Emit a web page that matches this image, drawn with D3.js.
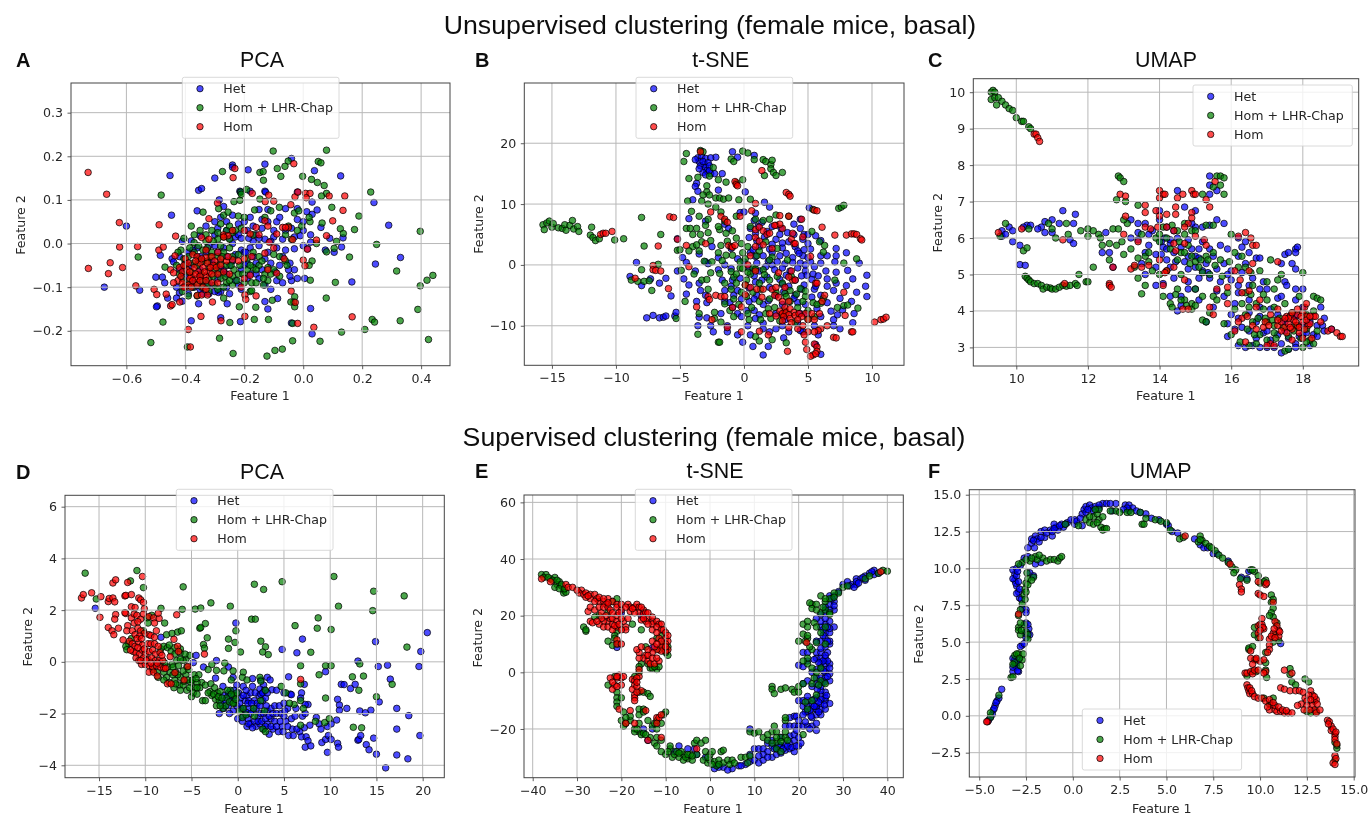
<!DOCTYPE html>
<html><head><meta charset="utf-8"><style>
html,body{margin:0;padding:0;background:#fff}
svg{display:block}
text{font-family:"DejaVu Sans",sans-serif;fill:#262626}
.head{font-family:"Liberation Sans",Arial,sans-serif;fill:#111}
</style><script src="https://cdnjs.cloudflare.com/ajax/libs/d3/7.8.5/d3.min.js"></script></head><body><svg id="c" width="1370" height="816"><defs><filter id="soft" x="0" y="0" width="100%" height="100%"><feGaussianBlur stdDeviation="0.4"/></filter></defs></svg>
<script>
const seriesNames=["Het","Hom + LHR-Chap","Hom"];
const seriesFill=["#0000ff","#008000","#ff0000"];

const aHet=[[-.452,.156],[-.24,.18],[-.24,.175],[-.187,.169],[-.13,.182],[-.3,.15],[-.04,.195],[.038,.167],[.127,.155],[-.355,.122],[-.345,.126],[-.215,.12],[-.213,.118],[-.18,.12],[-.13,.12],[-.128,.118],[-.285,.1],[-.27,.085],[.03,.095],[-.02,.118],[.24,.094],[-.447,.065],[-.36,.075],[-.15,.078],[-.12,.078],[-.06,.08],[-.02,.08],[.012,.073],[.03,.067],[.047,.077],[-.09,.05],[-.12,.05],[-.08,.06],[-.02,.055],[0,.05],[.29,.042],[-.6,.04],[-.33,.04],[-.3,.05],[-.28,.06],[-.2,.05],[-.24,.065],[-.22,.045],[-.17,.04],[-.14,.035],[-.1,.03],[-.06,.03],[-.04,.035],[0,.03],[.025,.02],[.06,.037],[.09,.012],[.135,.013],[-.38,.006],[-.41,.005],[-.35,.018],[-.3,.02],[-.26,.03],[-.23,.015],[-.19,.03],[-.16,.02],[-.13,.01],[-.1,.015],[-.07,.01],[-.03,.015],[-.01,.018],[.025,.003],[-.485,-.027],[-.445,-.035],[-.44,-.042],[-.42,-.06],[-.39,-.02],[-.36,-.01],[-.33,-.02],[-.3,-.005],[-.27,-.01],[-.24,0],[-.21,-.015],[-.18,-.01],[-.15,-.005],[-.12,-.02],[-.09,-.01],[-.06,-.015],[-.03,-.012],[0,-.005],[.015,-.012],[.075,-.015],[.105,-.02],[.13,-.008],[.33,-.032],[.245,-.047],[-.5,-.077],[-.478,-.077],[-.47,-.09],[-.555,-.107],[-.675,-.1],[-.46,-.125],[-.42,-.113],[-.41,-.132],[-.38,-.09],[-.35,-.07],[-.31,-.095],[-.28,-.11],[-.25,-.115],[-.22,-.095],[-.19,-.08],[-.16,-.07],[-.13,-.095],[-.11,-.105],[-.09,-.085],[-.07,-.09],[-.04,-.085],[-.05,-.06],[-.03,-.06],[-.08,-.05],[-.11,-.045],[-.14,-.06],[-.045,-.045],[-.02,-.08],[.005,-.08],[.165,-.088],[-.24,-.04],[-.27,-.06],[-.2,-.05],[-.17,-.03],[-.495,-.143],[-.498,-.145],[-.355,-.138],[-.288,-.112],[-.3,-.11],[-.258,-.138],[-.13,-.133],[-.12,-.15],[-.087,-.126],[.025,-.149],[-.38,-.177],[-.28,-.17],[-.213,-.179],[-.04,-.182],[.03,-.207],[-.34,-.115],[-.32,-.115]];
const aHet2=[[-.42,-.03],[-.4,-.045],[-.375,-.015],[-.35,-.03],[-.32,-.005],[-.29,-.02],[-.26,-.03],[-.23,-.025],[-.2,-.02],[-.19,-.045],[-.16,-.045],[-.13,-.035],[-.38,-.05],[-.35,-.06],[-.31,-.04],[-.28,-.06],[-.25,-.05],[-.21,-.06],[-.18,-.07],[-.15,-.08],[-.4,-.075],[-.37,-.1],[-.33,-.09],[-.29,-.08],[-.26,-.07],[-.23,-.085],[-.21,-.105],[-.43,-.1],[-.43,-.125],[-.39,-.115],[-.35,-.105],[-.26,-.1],[-.195,-.02],[-.17,.005],[-.22,.02],[-.25,.012],[-.21,.012],[-.185,.012],[-.15,.012],[-.29,.035],[-.26,.05],[-.18,.06],[-.14,.055],[-.11,.005],[-.07,-.03],[-.045,-.075],[-.095,-.065]];
const aGreen=[[-.102,.212],[.079,.214],[.051,.188],[.06,.185],[-.051,.189],[-.062,.177],[-.088,.172],[-.076,.154],[-.002,.154],[-.147,.163],[-.136,.165],[-.135,.145],[-.274,.165],[.028,.147],[.048,.14],[.071,.133],[.079,.115],[.062,.109],[.229,.118],[-.482,.111],[-.192,.124],[-.212,.118],[-.21,.113],[-.147,.102],[-.235,.096],[-.215,.099],[-.081,.083],[.097,.083],[.189,.063],[.397,.028],[.064,.047],[.023,.05],[.126,.034],[.136,.023],[.174,.032],[.113,.005],[.249,-.002],[.045,0],[.105,-.011],[.079,-.019],[.157,-.031],[.317,-.063],[.44,-.073],[.42,-.084],[.397,-.097],[.109,-.089],[.024,-.084],[.078,-.125],[-.029,-.122],[-.032,-.134],[-.042,-.134],[-.029,-.145],[.389,-.151],[.329,-.177],[.234,-.174],[.242,-.18],[.209,-.197],[.13,-.203],[.425,-.22],[.057,-.224],[-.036,-.223],[-.036,-.183],[-.071,-.242],[-.096,-.245],[-.123,-.258],[-.238,-.252],[-.284,-.217],[-.393,-.237],[-.517,-.227],[-.476,-.18],[-.249,-.181],[-.166,-.174],[-.118,-.174],[-.217,-.145],[-.161,-.146],[-.105,-.13],[-.56,-.031],[-.469,-.054],[-.287,.08],[-.34,.072],[-.27,.065],[-.255,.072],[-.22,.063],[-.2,.06],[-.165,.077],[-.13,.06],[-.11,.075],[-.05,.04],[-.005,.04],[.02,.06],[-.03,.07],[-.015,.075],[-.38,.04],[-.35,.03],[-.31,.03],[-.28,.045],[-.26,.03],[-.24,.025],[-.21,.035],[-.17,.02],[-.405,.012],[-.37,.002],[-.33,.005],[-.29,.01],[-.25,.01],[-.06,.02],[-.04,.01],[-.02,.03],[-.415,-.015],[-.39,-.03],[-.37,-.02],[-.34,-.015],[-.31,-.02],[-.29,-.03],[-.27,-.02],[-.24,-.03],[-.22,-.025],[-.19,-.035],[-.17,-.02],[-.15,-.03],[-.1,-.025],[-.08,-.03],[-.06,-.04],[.03,-.04],[.02,-.05],[-.4,-.05],[-.38,-.065],[-.36,-.05],[-.34,-.04],[-.32,-.055],[-.3,-.06],[-.28,-.045],[-.26,-.05],[-.235,-.06],[-.215,-.05],[-.19,-.06],[-.17,-.055],[-.15,-.05],[-.13,-.07],[-.1,-.06],[-.08,-.075],[-.055,-.05],[-.41,-.08],[-.385,-.085],[-.36,-.09],[-.34,-.085],[-.32,-.08],[-.3,-.095],[-.28,-.08],[-.26,-.09],[-.24,-.075],[-.22,-.07],[-.2,-.09],[-.175,-.09],[-.16,-.09],[-.135,-.095],[-.12,-.085],[-.39,-.12],[-.36,-.12],[-.32,-.11],[-.18,-.11],[-.175,-.108],[-.27,-.125],[-.41,-.11],[-.135,-.08],[-.24,-.095]];
const aGreen2=[[-.425,-.02],[-.405,-.035],[-.385,-.01],[-.355,-.005],[-.325,-.01],[-.305,.005],[-.28,-.005],[-.25,-.01],[-.43,-.05],[-.395,-.065],[-.375,-.045],[-.345,-.07],[-.325,-.04],[-.305,-.075],[-.285,-.065],[-.265,-.075],[-.245,-.05],[-.225,-.085],[-.205,-.07],[-.375,-.1],[-.345,-.1],[-.325,-.095],[-.29,-.105],[-.27,-.1],[-.25,-.085],[-.4,-.095],[-.42,-.07],[-.355,-.035],[-.315,-.03],[-.295,-.05],[-.275,-.03],[-.23,.03],[-.25,.04],[-.27,.015],[-.29,.025],[-.33,.02],[-.37,.02],[-.18,-.05],[-.16,-.06],[-.14,-.04],[-.12,-.055],[-.11,-.07]];
const aRed=[[-.73,.163],[-.667,.113],[-.624,.048],[-.623,-.008],[-.562,-.007],[-.489,.043],[-.433,.017],[-.729,-.057],[-.655,-.044],[-.661,-.069],[-.613,-.055],[-.568,-.097],[-.506,-.105],[-.497,-.117],[-.465,-.116],[-.45,-.143],[-.445,-.14],[-.419,-.134],[-.39,-.197],[-.383,-.237],[-.347,-.167],[-.279,-.177],[-.198,-.167],[-.308,-.134],[-.198,-.118],[-.195,-.128],[-.16,-.12],[-.041,-.109],[-.027,-.135],[-.019,-.183],[.036,-.192],[.166,-.168],[-.238,.151],[-.232,.172],[-.032,.183],[-.291,.093],[-.173,.115],[-.117,.111],[-.129,.096],[-.1,.097],[-.042,.089],[-.028,.107],[-.018,.118],[.008,.115],[.023,.115],[.01,.105],[.088,.109],[.141,.109],[.135,.076],[.1,.052],[.079,.018],[.045,.008],[.014,-.013],[0,-.038],[.006,-.051],[-.036,.009],[-.07,.037],[-.05,.037],[-.32,.057],[-.13,.052],[-.12,.04],[-.09,.022],[-.06,.037],[-.27,.02],[-.255,.018],[-.24,.03],[-.2,.03],[-.18,.022],[-.16,.037],[-.15,.02],[-.345,.014],[-.32,.01],[-.115,.003],[-.49,-.015],[-.475,-.008],[-.435,-.028],[-.4,-.035],[-.375,-.025],[-.36,-.03],[-.35,-.045],[-.33,-.032],[-.31,-.03],[-.3,-.04],[-.28,-.035],[-.26,-.04],[-.24,-.037],[-.22,-.04],[-.2,-.035],[-.175,-.03],[-.13,-.022],[-.1,-.01],[-.065,-.035],[-.45,-.06],[-.44,-.067],[-.42,-.055],[-.41,-.065],[-.395,-.06],[-.38,-.075],[-.37,-.055],[-.355,-.065],[-.34,-.055],[-.32,-.065],[-.305,-.05],[-.29,-.07],[-.27,-.065],[-.25,-.07],[-.36,-.08],[-.33,-.075],[-.425,-.085],[-.41,-.09],[-.39,-.095],[-.36,-.095],[-.34,-.1],[-.31,-.09],[-.29,-.09],[-.385,-.08],[-.44,-.09],[-.2,-.08],[-.18,-.073],[-.12,-.06],[-.09,-.068],[-.36,-.119],[-.345,-.118],[-.325,-.118],[-.33,-.105],[-.4,-.1],[-.21,-.1]];
const aRed2=[[-.405,-.05],[-.39,-.045],[-.385,-.065],[-.365,-.04],[-.365,-.07],[-.35,-.075],[-.345,-.035],[-.335,-.065],[-.325,-.045],[-.315,-.055],[-.31,-.07],[-.295,-.055],[-.375,-.085],[-.35,-.085],[-.33,-.085],[-.415,-.075],[-.405,-.1],[-.38,-.1],[-.28,-.05],[-.255,-.03],[-.27,.015],[-.29,-.02],[-.33,-.015]];

const bHet=[[-3.6,17.6],[-3.3,17.8],[-3.5,17],[-3,17.5],[-3.1,16.5],[-3.4,16.3],[-3,16],[-2.9,15.5],[-3.2,15.2],[-2.6,15],[-2.3,15],[-3,14.8],[-2.2,17.7],[-2.6,17.6],[-1.7,15],[-3.7,13.4],[-3.8,12.9],[-3.6,12.1],[-.9,18.6],[-.5,17.7],[.8,18],[-2,12.3],[.1,12],[-4,10.7],[1.6,10.3],[2,9.5],[5.1,9.4],[-.3,8.6],[0,8.7],[-4.3,7.6],[-3,7.2],[.8,7.3],[1.4,7],[4.4,7.5],[-1.5,6.7],[-1.2,6],[.5,6],[1.8,5.5],[2.9,6],[3.4,5.3],[4.4,6],[5.6,4.8],[-5.2,4.3],[-2.5,3],[-1,2.7],[.4,4.5],[1,4],[2.5,4.2],[3.5,3.8],[4.6,4.2],[5,3.5],[6,4],[7.2,2.7],[8,2],[1.2,3],[2,2.6],[3,2.8],[4,3],[5.2,2.6],[6,1.5],[6.5,1.5],[7.2,1.5],[-4.8,1.2],[-3.5,1.8],[-2,1.2],[-.5,1],[.5,2],[1.5,1.5],[2.8,1.5],[3.8,1.2],[4.6,1.5],[5.2,.5],[6,.3],[7.1,.5],[9,.3],[-8.4,.4],[-4.5,.4],[-3,.5],[-2.8,.2],[-1.5,0],[0,.5],[1,.3],[2.2,0],[3.2,.2],[4.4,.3],[6.4,-1],[8.1,-.9],[-5.2,-1],[-3.8,-1],[-2,-.8],[-1,-.6],[.4,-.5],[1.2,-1],[2.4,-.8],[3.6,-1],[4.8,-1],[5.4,-1.5],[7.2,-1.2],[8.5,-2.3],[9.6,-1.7],[-8.9,-1.9],[-7.3,-2.3],[-6.6,-3],[-6.1,-2.2],[-4.7,-2.3],[-4.3,-3.3],[-3.5,-3],[-1.7,-2.5],[-.3,-2.2],[1.4,-2.5],[2.8,-2.4],[4,-2.5],[5.3,-2.4],[6.5,-3.5],[7.2,-3],[8,-3.4],[9.5,-3.5],[-8,-3.4],[-3.4,-4.2],[-1,-3.5],[.4,-3.8],[2,-3.7],[3.5,-3.5],[5.5,-4],[7,-4.2],[8.8,-4.5],[-4.5,-4.8],[-3,-5],[-.8,-5],[1,-5],[2.5,-5],[4,-5],[6,-5],[7.5,-5.5],[9.6,-5.2],[-5.7,-5.1],[-3.7,-6],[-1.5,-6],[.4,-6],[1.5,-6.5],[3,-6.5],[4.8,-6.5],[6.5,-6.2],[8.4,-6],[-2.9,-6.2],[-.9,-7],[.8,-7.5],[2.5,-8],[4.4,-8],[5.7,-7.2],[7.7,-7.4],[-7.6,-8.7],[-7.1,-8.3],[-6.6,-8.7],[-6.3,-8.6],[-6.1,-8.4],[-5.4,-8.4],[-5.3,-7.8],[-3.5,-8.6],[-2.9,-8.7],[-1.8,-8],[-.5,-8],[1.2,-8.2],[3.2,-9],[6,-8.5],[7,-9],[8.6,-8],[-3.6,-10],[-2.6,-10],[-1.3,-10],[.3,-10],[1.5,-9.6],[3,-10],[4.2,-9.6],[5.5,-10],[7,-10],[8.5,-9.5],[-2.4,-11],[-1.3,-11],[-.5,-11.5],[.5,-11.5],[2,-11],[3.5,-11],[5.8,-11.5],[-.1,-12.7],[.7,-13.4],[1.9,-13.4],[1.5,-14.8],[6,-14.7],[5.6,-13.1],[3.1,-12],[4.6,-11]];
const bHet2=[[-3.8,17.3],[-3.2,17],[-2.8,16.8],[-2.7,16.3],[-3.5,15.8],[-2.7,15.5],[.9,8.5],[1.1,6.3],[.9,5.2],[2.2,6.3],[2.8,5],[3.9,5],[3.9,6.7],[4.7,5],[5,5],[1.6,4.6],[2.2,3.4],[3,3.6],[4.2,2.3],[4.7,2.5],[.7,2.5],[.9,1.4],[2.2,2],[3.3,1.9],[4.3,1.9],[5,1.2],[1.9,.6],[2.6,.5],[3.8,.4],[4.8,0],[5.5,-.3],[1.7,-.3],[3,-.5],[4.2,-.5],[4.9,-1.7],[5.8,-1.8],[6.5,-2.3],[.8,-1.8],[1.8,-2],[3.3,-1.7],[4.5,-1.8],[-.9,-2.5],[.9,-2.8],[3,-3.2],[4.7,-3.3],[-1.5,-4.2],[-.5,-4.2],[3.1,-4.4],[4.5,-4],[5.6,-3.5],[-.2,-5.6],[.8,-5.6],[1.9,-5.9],[3.9,-5.5],[5.3,-5.3],[-1.1,-6.2],[4.2,-6.2],[.2,-7.5],[-.2,-8.5],[.9,-8.8],[4.9,-8],[6.8,-7.6],[1.5,-10.5],[2.5,-10.5],[4.4,-10.8],[7.3,-8.2],[7.5,-10.5]];
const bGreen=[[-15.7,6.6],[-15.6,5.8],[-15.4,6.9],[-15.2,7.2],[-15,6.2],[-14.9,6.8],[-14.5,6.1],[-14.2,6],[-14,6.6],[-13.9,5.7],[-13.6,6.5],[-13.4,7.3],[-13.3,5.9],[-13,6.3],[-12.9,5.5],[-12,4.9],[-11.9,6.2],[-11.8,4.5],[-11.6,4],[-11.3,4.3],[-10.1,4.1],[-9.4,4.3],[-8,7.8],[-7.8,3.1],[-6.5,5],[-5.2,2.4],[-5,2.5],[-4.7,17],[-4.5,18.3],[-3.4,18.8],[-3.2,18.6],[-2.7,14.6],[-2.4,16],[-4.3,14.2],[-3.6,14.4],[-2,14],[-1.4,13.6],[-2.9,13],[-2.9,12],[-3.2,11.5],[-2.7,11.5],[-3.3,10.5],[-2.8,10],[-2.2,11],[-1.9,11],[-1.6,10.8],[-.6,13.5],[-1,17.4],[-.8,17],[-.1,18.7],[.3,18.4],[.8,17.3],[1.5,17.3],[1.7,17],[2.1,16.5],[2.1,15.8],[2.3,15.2],[2.5,14.7],[1.6,14.7],[3,15.2],[2.2,17.2],[-4.4,10.5],[-4.1,8.8],[-3.5,8],[-2.2,9.5],[-1.8,8.7],[-.4,10.7],[.5,10.8],[-.6,8],[2.5,8.2],[-4.5,6],[-4.2,6],[-3.7,6],[-4,5],[-3.4,5],[-2.8,5.3],[-3,6.5],[-2.8,7.5],[-1.5,7.2],[-1.9,5.8],[-1.4,5.2],[-.9,5.6],[.5,6.3],[.9,7.5],[1.5,7.3],[2,7.5],[3.5,8],[-4,3],[-3.3,3.8],[-2.6,4],[-1.3,3.9],[-.2,3.5],[1.7,3.8],[2.6,2.7],[5.3,5.5],[5.9,3.8],[6.3,3.2],[6.2,2.1],[7.8,.3],[8.8,1],[-3.5,2.3],[-2,2],[-.9,1.6],[-.1,2],[1,1.5],[2.2,1.3],[-3.1,.6],[-2.5,.5],[-1.7,.7],[-.3,.5],[.7,-.5],[1.5,-.8],[-6.7,.1],[-8,-.8],[-8.8,-2.5],[-8.3,-2.7],[-7.8,-2.7],[-7.4,-2.6],[-7.2,-4.2],[-3.9,-1.5],[-3.3,-2.5],[-2.9,-2.4],[-2.8,-4],[-1.9,-1.4],[-1.5,-3],[-.8,-2],[.2,-2.5],[.5,-1.5],[1.2,-3],[2,-2.5],[3,-3],[3.7,-1.9],[-1,-4],[-.2,-4.5],[.7,-4.5],[1.3,-4],[2.5,-4.5],[3.6,-4.2],[4.1,-4.8],[6.2,-5.5],[6,-6.3],[7.8,-6.7],[8.9,-7.1],[-4.6,-6],[-3.5,-8],[-2.3,-7.8],[-1.1,-7.5],[-.4,-6.5],[.6,-7],[1.2,-6],[1.7,-8],[2.4,-7],[3.6,-6],[4.2,-7],[5,-7.5],[5.5,-8.5],[7.3,-7],[-5.3,-8.8],[-2.3,-8.8],[-1.8,-9.4],[-.8,-8.5],[.4,-9],[1.3,-9],[2.1,-8.8],[3,-8.2],[4,-9.5],[5,-8.9],[-3.6,-11.4],[-2,-12.7],[-1.9,-12.7],[.9,-11.8],[1.2,-12.5],[2.2,-12.3],[3.3,-12.8],[7.4,9.3],[7.6,9.5],[7.8,9.8],[5.4,9.1],[-1.2,11],[-.1,14],[-1,-1.1],[-.3,-.5],[.9,-.7],[7.1,-2.5],[8.1,-6.6]];
const bGreen2=[[.3,3],[.1,1],[-.1,-.6],[.3,-1.2],[-.6,-1.5],[1.6,-1.6],[2.6,-1.9],[3.2,-4.7],[4.4,-3.9],[5.4,-6.2],[2,-5.6],[.2,-5.2],[-.8,-5.6],[3.3,-5.2],[4.8,-5.2],[2.8,-9.2],[1.9,-7.2],[3.2,-7.6],[4.6,-6],[.3,-8],[-1.5,-6.4],[2,.8],[3.4,.8],[1.2,2.3],[-.6,4.4],[-1.8,3.2],[-4.9,-.9],[-2.6,-1.3],[-.6,-3],[.1,-3.3],[-2,6.3],[-3.7,3.3],[-4.3,2.3],[-1.4,1.6],[4.8,-4.3],[5.7,-6.5]];
const bRed=[[-11.2,5],[-11,5.2],[-10.8,5.2],[-10.3,5.5],[-5.8,7.9],[-5.5,7.8],[-7.1,-.1],[-7.1,-.8],[-6.9,-.9],[-6.5,-1],[-6.7,3.1],[-5.2,4.2],[-4.5,3.2],[-4.3,-.3],[-5.9,-3.9],[-8.5,-2.2],[-3.4,18.6],[-.7,13.7],[-.6,13.2],[-.5,13],[1.4,15.5],[3.3,11.9],[3.5,11.6],[3.6,11.3],[.9,10.1],[.6,8.9],[2.8,8.1],[3.5,8],[-2.6,8.7],[-1.8,8],[-1.5,7.5],[-1.3,7],[-.3,8],[-3,3.5],[-1.2,3.2],[-1,3],[-.9,2.9],[-.7,3.2],[5.5,9],[5.7,8.9],[4.5,7.5],[4.6,4.6],[6.1,6.2],[7.1,4.9],[8,4.9],[8.4,5.1],[8.6,5.1],[8.8,5],[9.1,4.3],[9.2,4.1],[.9,5.8],[1.2,6.2],[1.5,5.6],[1.8,5],[2,5.2],[.9,4.5],[1.2,3.9],[1.5,3.3],[.9,3],[3,6],[3.8,5.2],[3.7,4.2],[3.9,3.5],[4,3.5],[2.2,2.7],[2.5,6.5],[2.8,6.7],[5.2,1.4],[.5,1.5],[.3,0],[.9,-1],[2.7,-1.3],[3.7,-1],[3.8,-2.5],[3.5,-2],[4,-2.5],[.1,-3.3],[.5,-3.7],[1,-4],[1.5,-4],[2.2,-4],[2.5,-3.7],[3.2,-3.7],[5.6,-3],[1.4,-5.3],[-2.8,-5.2],[-2.7,-5.7],[-2.2,-5],[-1.8,-5.2],[-1.5,-5.2],[-.9,-7],[-.2,-6.9],[-3.7,-6.9],[.1,-4.9],[2.4,-5],[2.7,-5.3],[3,-6],[3.5,-6],[3.2,-7],[2.8,-7.6],[3,-8],[3.3,-7.8],[3.6,-7.2],[3.9,-7.8],[3.5,-8.2],[3.1,-8.5],[3.6,-8.8],[4,-8.3],[4.3,-8],[4.8,-8],[5.3,-8],[5,-9],[4.5,-8.5],[2.5,-8.4],[2,-8],[3,-9.2],[3.7,-9.5],[4.2,-9],[3.5,-10.3],[4.2,-10.5],[4.6,-10],[5.5,-9],[5.9,-8],[6,-10.5],[5.8,-10.8],[6.5,-10],[5,-11],[4.7,-11.5],[5.5,-11],[7,-11.9],[7.2,-12],[8.4,-11],[8.5,-11],[6.3,-5],[5.7,-3],[7.8,-4.5],[7.9,-8.3],[10.2,-9.4],[10.7,-9],[10.9,-8.9],[11.1,-8.6],[-1.3,-10.3],[-.2,-11],[1.2,-10.9],[1.9,-11.5],[-2.5,-9],[3.4,-14.2],[4.8,-12.7],[4.9,-13.9],[5.5,-13],[5.7,-13.5],[5.7,-14.2],[5.4,-14.8],[5.2,-15],[5.6,-14.6],[6.1,-6],[2.4,6.5]];

const cHet=[[15.4,7.7],[15.4,7.45],[15.4,7.2],[15.6,7.3],[14.5,7.3],[14.7,6.85],[15,6.75],[14,6.75],[14,6.5],[14.2,6.3],[15.6,6.5],[15.8,6.4],[15.2,6.3],[15.4,6.35],[15,6.3],[14.9,6.4],[13.2,6.5],[13.4,6.4],[13.6,6.4],[13.8,6.2],[14.4,6.2],[11.3,6.75],[11.65,6.65],[10.8,6.45],[11,6.5],[11.2,6.4],[11.6,6.4],[10.7,6.3],[10.8,6.15],[11,6.15],[10.6,6.25],[10.3,6.35],[10.2,6.3],[10.4,6.35],[9.6,6.05],[9.6,6.2],[9.8,6.3],[9.9,6.2],[9.7,6.1],[11.5,5.95],[11.6,5.85],[9.9,5.9],[10.1,5.8],[10.1,5.27],[10.25,5.25],[12.4,5.6],[12.6,5.6],[12.7,5.2],[12.5,6.15],[13.2,6],[13.4,5.95],[14.1,5.75],[14.3,5.85],[14.5,6],[14.8,5.95],[15.2,5.9],[15.4,5.7],[15.7,5.8],[15.9,5.7],[16.2,5.5],[16.3,5.75],[16.5,5.6],[16.4,5.9],[16.2,6],[14.2,5.4],[14.4,5.6],[14.8,5.5],[15,5.5],[15.3,5.3],[15.6,5.15],[15.8,5.3],[16,5.1],[16.4,5.3],[16.7,5.45],[16.8,5.45],[17.4,5.3],[17.5,5.55],[17.6,5.6],[17.7,5.3],[17.8,5.7],[17.85,5.75],[17.8,5.15],[17.8,5.6],[14.8,5.15],[15.1,4.9],[15.4,4.9],[15.7,4.8],[16,4.85],[16.2,4.7],[16.6,4.9],[16.9,4.8],[17.5,4.8],[17.55,4.7],[17.8,4.6],[18,4.6],[13.9,4.7],[14.1,4.75],[15,4.6],[14.3,4.4],[14.6,4.4],[15.8,4.4],[16.2,4.5],[17.3,4.35],[17.4,4.4],[17.8,4.3],[18,4.1],[14.5,4],[14.6,4.15],[15.5,4.1],[16,3.9],[16.2,3.8],[16.5,3.95],[15.3,3.7],[15.9,3.3],[16.1,3.5],[16.3,3.55],[16.7,3.7],[16.9,3.4],[17.1,3.2],[17.4,3.1],[17.6,3.25],[17.8,3.1],[18,3.35],[18.3,3.35],[18.4,3.6],[18.55,3.6],[18.6,3.8],[18.5,4.1],[16.2,3.05],[16.4,3],[16.6,3.05],[16.8,3],[17,3],[17.2,3],[17.4,2.85],[17.6,2.95],[17.8,3],[18.2,3.05],[18.8,3.5],[18.4,3.3],[18.6,3.45],[13.9,5.55],[14.3,5.2],[13.7,5.8],[13.5,5.3],[13.6,5],[13.9,5.2]];
const cHet2=[[14.15,6],[14.05,5.9],[14.3,5.95],[14.6,5.75],[14.9,5.7],[15.1,5.7],[14.05,5.55],[14.2,5.7],[14.45,5.35],[14.7,5.35],[15,5.2],[15.2,5.1],[15.5,5.5],[15.1,5.45],[15.35,5.05],[15.9,5],[16.3,5.05],[16.5,4.7],[16.8,4.6],[17,4.6],[16.5,4.3],[16.8,4.1],[17.1,4.05],[17.3,3.9],[17.5,3.7],[17.8,3.85],[18.1,3.4],[18.2,3.7],[16.8,3.85],[16.5,3.45],[16.7,3.25],[17,3.45],[17.3,3.35],[17.5,3.45],[17.9,3.3],[18,3.6],[14.4,4.9],[14.8,4.8],[15.6,4.55],[15.1,4.3],[14.8,4.6],[16.1,4.2],[15.9,3.65],[13.4,6.15],[13.7,6.1],[13.6,5.6]];
const cGreen=[[9.3,10],[9.35,10.05],[9.4,10],[9.3,9.8],[9.4,9.85],[9.5,9.85],[9.45,9.65],[9.6,9.75],[9.7,9.65],[9.8,9.55],[9.9,9.5],[10,9.3],[10.15,9.2],[10.2,9.2],[10.35,9.05],[10.4,9],[9.7,6.4],[9.55,6.05],[10.2,5.65],[10.3,5.73],[10.25,4.95],[10.3,4.9],[10.35,4.85],[10.4,4.8],[10.5,4.75],[10.6,4.75],[10.7,4.7],[10.75,4.6],[10.85,4.65],[10.95,4.63],[11,4.6],[11.1,4.6],[11.2,4.65],[11.3,4.7],[11.4,4.68],[11.5,4.7],[11.65,4.75],[11.7,4.7],[11.75,5],[11.95,4.8],[12,4.8],[12.15,5.2],[11.1,6],[11.4,6.4],[11.45,6.1],[10.35,6.25],[10.9,6.4],[11,6.25],[11.8,6.2],[12,6.25],[12,6.05],[12.15,6.2],[12.3,6.1],[12.35,6],[12.4,5.8],[12.6,5.85],[12.8,5.8],[12.7,6.25],[12.6,5.4],[13,5.55],[12.95,5.9],[12.85,6.25],[12.85,7.7],[12.9,7.65],[13,7.55],[12.8,7.05],[13.05,7],[13.4,6.9],[13.1,6.4],[13,6.5],[13.5,6.1],[13.2,5.7],[13.3,5.2],[13.4,4.9],[13.4,5.45],[13.5,4.47],[13.6,4.7],[13.6,5.5],[13.7,5.6],[13.8,5.1],[13.9,6],[14,5.9],[14.2,6],[14.35,6.35],[14.5,6.2],[14.7,6.4],[14.9,6.2],[15.2,7.2],[15.3,6.35],[15.5,6.35],[15.6,7.7],[15.7,7.7],[15.8,7.65],[15.5,7.4],[15.7,7.45],[15.8,7.2],[16,6.1],[14.3,5.7],[14.6,5.6],[14.9,5.5],[15.3,5.5],[15.5,5.6],[15.7,5.4],[16.1,5.6],[16.2,5.2],[16.4,5.2],[16.8,5.1],[17.1,5.4],[17.4,5],[17.3,4.85],[17,4.8],[16.6,4.7],[18,5.05],[14.1,4.4],[14.3,4.2],[14.5,4.6],[14.7,4.3],[14.9,4.2],[15,4.6],[14.9,4.05],[14.35,4.1],[15.2,4.4],[15.5,4.4],[15.6,4.3],[15.9,4.5],[16.3,4.2],[16.5,4.1],[16.7,4.2],[17,4.3],[17.2,4.1],[17.5,4.2],[17.9,4.4],[18.3,4.4],[18.4,4.35],[18.5,4.3],[15.2,3.75],[15.3,3.7],[15.4,3.95],[16,3.35],[15.8,3.65],[16.1,4.05],[16.4,3.9],[16.6,3.7],[16.8,3.35],[17,3.7],[17.2,3.4],[17.6,3.3],[17.8,3.6],[18.1,3.5],[18.3,3.1],[18.4,3.45],[18,3],[16.5,3.05],[16.7,3.1],[17,3.2],[17.5,2.9],[17.6,2.95],[18.1,3.9],[18.3,4],[16.9,4.05],[17.7,3.95],[16.3,5.5],[14.8,5.8],[15.1,5.2],[14.2,5.1]];
const cGreen2=[[14.5,5.4],[14.7,5.6],[14.85,5.3],[15,5.35],[15.15,5.4],[15.35,5.4],[15.55,5.25],[15.4,5],[15.2,5.05],[14.6,5],[15.75,4.95],[15.95,5.35],[16.55,5.05],[17.2,4.6],[16.9,4.45],[16.55,4.45],[16.4,4.5],[14.6,4.3],[14.45,4.45],[14.75,4.15],[15,4.15],[16.75,3.8],[16.95,3.8],[17.15,3.75],[17.35,3.8],[17.45,3.55],[17.75,3.45],[17.95,3.25],[17.2,3.6],[17.25,3.25],[16.65,3.35],[16.45,3.5],[16.25,3.15],[18.2,3.2],[18.1,3.15],[15,6.2],[14.7,6.1],[14.1,6.3],[14,6.1],[13.7,5.35],[14,5],[14.55,5.9]];
const cRed=[[10.5,8.85],[10.55,8.85],[10.6,8.75],[10.65,8.65],[9.5,6.15],[10.15,6.25],[11.3,5.95],[11.35,4.75],[12.6,4.75],[12.6,4.7],[12.65,4.65],[12.7,5.2],[12.9,7.2],[13.05,7.15],[13,6.1],[13.05,6.6],[13.6,6.9],[13.6,6.7],[13.4,5.9],[13.6,6.3],[13.75,6.25],[13.9,6.75],[14,6.6],[13.95,6.3],[14,7.1],[14,7.3],[14.1,7.2],[14.15,7.2],[14.2,6.65],[14.2,6.3],[14.45,6.65],[14.5,7.1],[14.45,6.85],[14.65,7.2],[14.9,7.3],[14.95,7.2],[15,7.2],[14.9,6.7],[14.9,6.55],[14.8,6.4],[15.3,7.05],[15.4,6.85],[15.55,7.55],[14.7,6.3],[14.4,6.2],[15,6.05],[15.25,5.95],[14.4,5.85],[14.45,5.65],[14.7,5.85],[15.3,5.8],[13.2,5.15],[13.3,5.25],[13.5,5.2],[13.7,5.25],[14,5.4],[14.2,5.1],[14.4,5.2],[14.7,4.85],[14.1,4.7],[14.15,5.05],[14.65,4.05],[14.8,4.05],[15.6,4.6],[15.4,4.1],[15.5,3.9],[15.9,4.2],[16.1,5.1],[16.25,4.85],[16.3,4.5],[16.5,4.55],[16.2,6.05],[16.4,6.15],[16.55,6],[16.6,5.8],[16.7,5.8],[16.6,5.3],[16.5,5.1],[17.3,5.35],[16.8,4.3],[16.7,4.1],[17.3,4.05],[17.55,3.85],[15.9,4.65],[16.1,3.45],[16.3,3.8],[16.4,3.15],[16.6,3.6],[16.7,3.5],[16.9,3.55],[16.95,3.7],[17.05,3.6],[17.1,3.9],[17.1,3.1],[17.3,3.6],[17.4,3.7],[17.5,3.55],[17.55,3.4],[17.6,3.65],[17.65,3.85],[17.7,3.5],[17.7,3.2],[17.75,3.75],[17.85,3.6],[17.85,3.9],[17.9,3.4],[18,3.7],[18,3.95],[18.05,4.1],[18.1,3.85],[18.15,3.6],[18.2,3.65],[18.3,3.85],[18.35,3.85],[18.5,3.7],[18.25,3.25],[18,3.25],[18.7,3.45],[18.8,3.5],[18.95,3.4],[19.05,3.3],[19.1,3.3],[18.1,4.2],[17.85,4.05],[16.45,3.85],[17.2,3.05],[17,3.05],[16.2,3.7]];
const cRed2=[[17.65,3.55],[17.8,3.7],[17.6,3.8],[17.9,3.55],[18.1,3.75],[17.5,3.8],[17.95,3.85],[17.7,3.95],[18.2,3.85],[18.05,3.5],[17.3,3.75],[17.4,3.45]];

const dHet=[[-15.4,2.07],[-8.3,.95],[-.2,1.5],[7,.88],[4.8,.48],[6.4,.35],[14.9,.78],[20.5,1.13],[19.8,.4],[19.6,-.18],[16.2,-.13],[15.2,-.18],[13,.03],[9.5,-.38],[5.5,-.58],[16.5,-.67],[11.2,-.87],[11.5,-.88],[12.2,-1.03],[12.7,-.87],[10.8,-1.45],[11,-1.67],[11.8,-1.8],[11,-1.87],[15.3,-1.55],[17.2,-1.8],[14.4,-1.87],[13.2,-1.9],[13.8,-1.97],[18.5,-2.08],[10.7,-2.25],[10.1,-2.4],[9.7,-2.5],[8.5,-2.15],[8.8,-2.4],[9,-2.6],[7.8,-2.45],[7.2,-2.55],[6.7,-2.7],[6.9,-2.9],[7.4,-2.9],[7.6,-3.05],[7.3,-3.3],[7.9,-3.25],[9.1,-3.12],[9.5,-3],[9.8,-2.85],[10.1,-3],[10.8,-3.15],[10.9,-3.3],[9.7,-3.5],[13,-3.03],[13.1,-3],[13.3,-2.85],[14.7,-2.95],[13.9,-3.2],[14.2,-3.4],[15,-3.57],[17.2,-2.6],[19.7,-2.85],[17.2,-3.6],[18.4,-3.75],[16,-4.1],[-4.5,.25],[-4.8,-.03],[-2.3,.05],[-3.7,-.2],[-1,-.2],[-2.4,-.63],[-.5,-.6],[-1.6,-.95],[-.1,-.9],[.6,-.95],[1.6,-.65],[2.5,-.7],[3.2,-.6],[3.5,-.7],[2.8,-.9],[1.6,-.95],[3.7,-1.08],[4.2,-1.1],[2.4,-1.05],[5,-1.2],[5.7,-1.25],[5.8,-1.27],[6.9,-1.2],[7.2,-.87],[-2,-2],[-1.8,-1.6],[-1.5,-1.3],[-1,-1.2],[-.7,-1.5],[-1.5,-1.8],[-1,-1.7],[-.5,-1.9],[-.1,-1.7],[0,-2.2],[.5,-1.8],[.8,-1.5],[1,-1.3],[1.2,-1.8],[1.4,-1.2],[1.8,-1.5],[.6,-2.1],[1.1,-2.2],[1.7,-1.9],[2.1,-1.6],[2.3,-1.3],[2.7,-1.5],[3,-1.4],[1,-2.5],[1.4,-2.4],[1.8,-2.3],[2.2,-2.1],[2.5,-2],[2.8,-2],[3.2,-1.9],[3.6,-1.8],[4,-1.7],[4.5,-1.7],[5,-1.6],[5.4,-1.8],[2,-2.5],[2.4,-2.4],[2.8,-2.6],[3.2,-2.4],[3.6,-2.2],[4,-2.3],[3.4,-2.8],[3.8,-2.6],[4.4,-2.7],[4.8,-2.5],[5.2,-2.3],[5.8,-2.2],[6.2,-2.1],[6.3,-1.8],[5.5,-2.85],[5.9,-2.6],[6.4,-2.6],[7,-2.1],[7.3,-2],[7.6,-1.65],[7.3,-1.65],[6.8,-1.4],[2.9,-1.1],[1.2,-1.5],[.3,-1.4]];
const dHet2=[[-1.3,-1.5],[-.8,-1.3],[-.3,-1.5],[-.9,-2],[.1,-1.2],[.3,-1.8],[.9,-1.1],[.6,-1.3],[1.1,-1.6],[1.5,-1.6],[1.9,-1.2],[2.5,-1.25],[.9,-1.95],[1.4,-2],[2,-1.8],[2.4,-1.7],[2.7,-1.2],[3.1,-1.7],[.5,-2.3],[1.2,-2.4],[1.6,-2.55],[2.2,-2.3],[2.6,-2.3],[3,-2.2],[3.4,-2.1],[3.8,-2],[4.2,-2],[4.7,-2],[5,-2.1],[3,-2.5],[3.6,-2.5],[4.2,-2.5],[4.6,-2.3],[5.4,-2.5],[5.1,-1.9],[4.9,-2.7],[6,-2.85],[3.2,-1.2],[.2,-1.6],[-.4,-1.1]];
const dGreen=[[-16.5,3.43],[-15.3,2.43],[-11.6,3.13],[-10.9,3.53],[-10.2,2.87],[-8.3,2.07],[-5.9,2.9],[-6,2.03],[-4.6,2.04],[-4,2.08],[-2.9,2.28],[-.8,2.15],[1.8,3],[2.8,2.8],[4.8,3.1],[10.4,3.3],[14.7,2.73],[14.6,1.98],[18,2.55],[10.9,2.15],[8.7,1.7],[1.5,1.65],[1.9,1.65],[6.2,1.4],[8.6,1.3],[10.1,1.25],[18.3,.57],[-7.9,1.5],[-7.7,1.05],[-7.1,1.1],[-6.5,1.15],[-6.1,1.2],[-4.1,1.3],[-4,1.33],[-3.5,1.48],[-3.3,.93],[-.2,1.2],[-1,.88],[-1,.52],[.3,.38],[-.3,.75],[2.5,.8],[3,.58],[2.7,.38],[3.3,.28],[7.9,.37],[-3.7,.67],[-3.6,.53],[-9.3,1.8],[-9.8,1.7],[-9.7,1.5],[-10.2,1.2],[-11.5,.9],[-11.8,.7],[-12.1,.6],[-12,.47],[-8.3,.5],[-8,.6],[-7.6,.55],[-7.4,.65],[-7.2,.4],[-6.8,.3],[-6.2,.35],[-5.6,.1],[-5.2,.25],[-6.6,.05],[-7.1,-.1],[-5.9,.05],[-5.5,-.2],[-6.7,-.4],[-7.3,-.4],[-7.7,-.6],[-7.4,-.8],[-6.8,-.7],[-6.2,-.6],[-5.6,-.5],[-4.7,-.5],[-4.2,-.5],[-3.9,-.8],[-6.9,-1],[-6.3,-.9],[-5.9,-.9],[-5.5,-1.1],[-5.1,-.8],[-4.6,-1],[-4.1,-1],[-3.5,-.9],[-3.2,-.3],[-2.8,-.1],[-2.3,-.33],[-1.4,-.05],[-1.5,-.35],[-.5,-.35],[.6,-.4],[.5,-.6],[-.7,-.7],[1,-.7],[2.4,-.6],[2.5,-.75],[-2.9,-.85],[-2.5,-1],[-3,-1.15],[-5,-1.35],[-4.8,-1.2],[-4.4,-1.25],[-3.8,-1.5],[-3.5,-1.5],[-2.8,-1.3],[-2.2,-1.2],[-1.9,-1.15],[-2.4,-1.45],[-2,-1.5],[-1.6,-1.8],[-1.2,-1.4],[-.8,-1.1],[-.4,-1.3],[-.1,-1.2],[-.3,-1.6],[.2,-1.9],[.5,-2.15],[1.7,-1.8],[2.5,-1.5],[2.9,-1.9],[2.7,-2.6],[3,-2.7],[3,-1.1],[4.7,-.95],[5.2,-1.2],[6.1,-1.65],[5.6,-1.6],[6.8,-.15],[6.8,-.85],[9.5,-.15],[10.1,-.15],[8.8,-.5],[12.4,-.58],[13.6,-.55],[13.2,-.08],[13.1,-1.1],[16.7,-.87],[15,-1.35],[9.5,-1.4],[6.8,-1.5],[7.1,-1.8],[6.8,-2.45],[8.4,-2.3],[9.4,-2.35],[9.9,-2.2],[12.5,-2.53],[13.4,-2.55],[-9.2,-.3],[-8.7,-.4],[-8,-.4]];
const dGreen2=[[-8,-.7],[-7.6,-.2],[-7,-.2],[-6.4,-.15],[-5.9,-.35],[-6.5,-.5],[-7,-.5],[-7.9,-.05],[-6.2,.1],[-5.8,-.75],[-5.4,-.7],[-5.3,-.3],[-4.9,-.7],[-4.4,-.8],[-4.5,-.65],[-6.2,-1.1],[-6.7,-.85],[-5.2,-1],[-4.4,-1],[-3.2,-1.2],[-2.6,-1.25],[-2.1,-1.35],[-1.7,-1.4],[-1.1,-1.1],[-1.3,-1.7],[-.9,-1.55],[-.5,-1.6],[-.7,-1.25],[-.2,-1.45],[-2.3,-1.7],[-1.9,-1.7],[.6,-1.8],[.9,-2.05],[1.8,-2.1],[-8.4,-.1],[-8.6,-.6],[-6.2,.5],[-6.8,.55],[-5.7,.3]];
const dRed=[[-16.9,2.47],[-16.7,2.6],[-15.8,2.67],[-14.8,2.52],[-14,2.33],[-13.9,2.45],[-13.5,2.47],[-13.3,2.32],[-13.5,3.05],[-13.2,3.17],[-11.9,3.07],[-10.3,3.3],[-14.9,1.72],[-14,1.33],[-13.6,1.2],[-13.4,1.05],[-13.2,1.83],[-13.3,1.65],[-12.9,1.3],[-12.4,.85],[-12.1,1.87],[-12.2,1.9],[-12.2,2.55],[-12.1,2.57],[-11.5,2.6],[-11.5,2.13],[-11.1,2.1],[-10.7,2.47],[-10.5,2.4],[-10.2,2.3],[-10.1,2.05],[-11.9,1.4],[-12,1.2],[-11.5,1.7],[-11.2,1.85],[-10.9,1.8],[-10.5,1.65],[-10.2,1.85],[-9.6,1.75],[-9.1,1.7],[-9,1.5],[-8.8,1.2],[-8.5,1.68],[-8.6,1.88],[-11.4,1.2],[-11.1,1.05],[-10.8,1.3],[-10.5,1.2],[-10.1,1.1],[-9.6,1.05],[-9.4,1.02],[-9,.95],[-11.7,.8],[-11.4,.7],[-11.1,.6],[-10.7,.75],[-10.3,.65],[-11.3,.4],[-11,.35],[-10.6,.3],[-10.3,.45],[-10,.3],[-9.6,.4],[-9.2,.45],[-8.9,.3],[-8.4,.35],[-11,.15],[-10.7,.05],[-10.2,.15],[-9.7,.1],[-9.3,.15],[-8.9,.05],[-8.5,.05],[-8.1,.05],[-10.4,-.1],[-10,-.1],[-9.6,-.15],[-9.2,-.2],[-8.8,-.15],[-8.4,-.2],[-8,-.25],[-9.6,-.4],[-9.1,-.4],[-8.7,-.55],[-7.8,-.25],[-6.9,.87],[-6.5,.6],[-6.4,.4],[-6.6,1.82],[-7.3,.2],[-5.4,-.18],[-6.8,-.42],[-5.8,-.7],[-7.6,-.85],[-7.2,-.85],[-3.6,.3],[6.8,-.68]];
const dRed2=[[-11.2,1.5],[-10.8,1.55],[-10.6,1],[-10.9,.9],[-10.4,.9],[-11.6,.45],[-10.8,.55],[-10.1,.5],[-9.7,.7],[-9.4,.7],[-10.5,.05],[-9.9,.05],[-9,.7],[-8.6,.6],[-8.2,.25],[-9.4,-.05],[-8.7,-.05]];

const eHet=[[-21,8.8],[-20,21],[-15.5,20],[-13,8.7],[-15,-20],[-13,-20],[-14,-24],[-8,-28],[-7,-26],[-5,-27],[-3.5,-27],[-1,-30],[1,-34],[3,-33.5],[5,-34],[6.5,-33],[8,-32.5],[9,-31.5],[10,-31],[11,-32],[12,-31],[9,-29],[10,-27],[11,-27],[12,-27],[13,-28],[14,-30],[15,-29],[16,-28.5],[17,-27.5],[18,-27],[19,-28],[20,-26],[20.5,-25],[13,-25],[14,-26],[15,-27],[16,-26],[17,-25.5],[18,-25],[19,-24],[14,-24],[16,-23],[18,-22.5],[9,-20],[17,-19],[18,-19],[19,-19],[20,-19],[21,-19],[18,-16],[19,-15.5],[19.5,-15.5],[22,-19],[23,-19],[24,-18],[23,-16],[24,-15],[25,-15],[22,-14],[23,-13],[24,-13],[25,-13],[26,-13],[21,-12],[22,-12],[23,-11],[24,-12],[25,-11],[26,-10],[27,-11],[20,-10],[21,-10],[22,-10],[24,-9],[25,-8],[26,-9],[26,-7],[25,-6.5],[23,-5],[24,-4],[25,-5],[21,-4],[22,-3],[24,-2],[25,-2],[26,-2],[27,-3],[26,0],[27,-.5],[25,1],[24,1],[20,2.5],[21,2],[23,0],[22,4],[25,3],[26,3],[27,3],[24,5],[25,5],[26,5],[26.5,7],[21,7],[24,7],[25,7],[22,7],[26,9],[27,10],[25,11],[26,12],[24,11],[27,11],[26,14],[27,14],[28,16],[25,16],[26,17],[27,18],[25,18],[26,19],[24,19],[25,20.5],[28,22],[27,24],[28,25],[27,27],[28,27],[30,31],[31,32],[32,31],[33,31],[33,33],[34,33],[33,32],[35,34],[35,32.5],[36,35],[37,36],[37,34.5],[38,35],[-3,-29]];
const eHet2=[[25,-9.5],[26.3,-8.2],[25.8,-11.5],[24.5,-10.5],[23.5,-12],[22.5,-13.5],[21.5,-14],[23.5,-9.5],[22,-8.5],[24.5,-14],[22.8,-15.5],[21,-15],[25.3,-3.5],[24.2,-6],[25.8,-3.5],[26.5,-1.5],[26.2,1],[25.6,.5],[27,1.5],[26.5,4],[25.5,4],[24.5,3.5],[23.5,4.5],[26,6],[25,8.5],[26.5,11],[25.5,13],[27,15.5],[26.5,16],[25.5,15],[26,21],[27,22],[28,23.5],[26,23],[27.5,26],[29,28.5],[31.5,30.5],[32.5,30],[33.5,31.5],[34.5,33.5],[36.5,35.5],[14.5,-27],[15.5,-25.5],[16.5,-27],[17.5,-26],[18.5,-26.5],[19.5,-26],[19,-22],[20,-23],[12,-29],[11,-29.5],[13,-30],[7,-33],[4,-34.5],[2,-33.5],[20,-17],[21.5,-17.5],[19.5,-20.5],[22.5,-20],[24,-20.5]];
const eGreen=[[-38,34.5],[-37,34.5],[-36,33],[-35,33.5],[-34,32],[-34.5,31],[-33.5,30.5],[-35,30],[-33,29],[-33,28],[-32.5,28.3],[-28.5,16],[-28,14.5],[-28,15],[-25,20],[-26,19.5],[-23,21],[-22,25],[-21,26],[-21,14.5],[-21.5,13],[-23,11],[-22,9.5],[-15.5,15],[-17.5,17],[-14.5,9],[-12,1],[-13.5,1.5],[-15.5,3],[-11.5,2],[-16,2],[-9.5,6],[-10,7],[-10.5,10],[-11,13],[-12,12],[-23,-4.5],[-21.5,-1.5],[-17,-1.5],[-16,0],[-21,-7],[-21,-9],[-21,-10.5],[-20,-9],[-16,-7],[-15,-7],[-14,-7.5],[-13.5,-8.5],[-21,-12],[-19.5,-14],[-20,-17],[-19,-18],[-19.5,-19],[-18,-17],[-16,-13],[-15,-13],[-16,-15],[-16,-18],[-17,-20],[-16,-21],[-14,-17],[-13,-19],[-12.5,-18],[-10,-14],[-10.5,-15],[-11,-18],[-12,-17],[-12,-20],[-17,-21],[-15.5,-22],[-13.5,-23],[-12,-23],[-12.5,-25],[-11,-24],[-12,-26],[-11,-28],[-10,-29],[-9,-27],[-8.5,-30],[-7,-30],[-6,-29],[-9,-26],[-5,-30.5],[-4,-31],[-6,-31],[-4.5,-29],[-3.5,-25],[-3,-24],[-2,-25],[-1,-24],[-3,-29],[-1,-28],[0,-29],[.5,-28],[-1.5,-31],[-.5,-32],[0,-31],[1,-31.5],[1.5,-33],[2,-31],[2.5,-28],[3,-27.5],[3,-32],[4,-31],[5,-31],[7,-30],[8,-30],[8.5,-32],[9,-29.5],[9,-21],[10,-21.5],[11,-21],[12,-23],[13,-24],[14,-21],[15,-21],[16,-23],[17,-23],[17,-21],[15,-24.5],[15,-27],[16,-28],[14.5,-19],[17,-17],[17,-16],[21,-22],[14,-5],[14,-6],[14.5,-7.5],[16,-6],[17,-5.5],[18.5,-6],[19,-7],[20,-7],[20,-5],[21,-4],[21.5,-10.5],[22,-13],[23,-10],[24,-8],[25,-3],[24,0],[23,-4],[21.5,11],[20,11],[22,12],[21,17],[22,18],[22,16],[23.5,17.5],[24,16],[26,16],[25,14],[22,3],[22,5],[23,8],[24,10.5],[26,10],[25,1.5],[26,-4],[23,24],[22.5,24.5],[25,21],[26,22],[27,21],[24,24],[26,25],[27,26],[25,27],[29,28],[28,28],[30,30],[35,33],[36,34],[38,35],[39,36],[40,35.7]];
const eGreen2=[[-37.5,33.5],[-36.5,33.5],[-35.5,32.5],[-34.5,32.5],[-33.5,31],[-34,29.5],[-32.8,29.5],[-21.5,12],[-20.8,10],[-14,3],[-13,1.5],[-12.5,2],[-10,8],[-9.5,9],[-11.5,8],[-18,-15.5],[-19,-16],[-15,-14],[-16.5,-20],[-15,-21.5],[-14.5,-22],[-9.5,-28],[-8,-29],[-7.5,-28],[-6.5,-28],[-5.5,-30],[-7,-28.5],[-5,-29],[-4,-29.5],[-.5,-30],[.5,-32.5],[2,-32.5],[4.5,-32.5],[5.5,-32],[15,-23],[16,-24.5],[14,-25],[17.5,-24],[13,-22],[24.5,-4.5],[23.5,-2],[23,1.5],[21,4],[22.5,9],[21,13.5],[22,13],[23,22.5],[24,22],[25.5,23],[26,26],[28,26.5],[27,20.5],[31,30.5]];
const eRed=[[-38,33],[-36,32],[-32.5,31],[-32,30],[-31,30],[-29,29],[-29.5,28],[-28.5,27.5],[-28,28],[-27,27.5],[-27,26],[-26,27.5],[-25.5,26],[-25,25],[-24,25],[-23.5,24],[-23,26],[-22,25],[-21,24],[-21,23],[-20,22],[-20,24],[-18.5,24],[-18,23],[-18,21.5],[-17,23],[-16.5,24],[-16,23],[-16,21],[-15,22],[-15,20.5],[-14.5,21],[-14,21],[-14,19],[-13,18],[-14.5,18],[-15.5,18.5],[-13,17],[-12,18],[-11.5,17],[-11,17],[-13,15],[-12,16],[-11,15],[-10.5,15],[-10,14],[-10,12],[-9.5,11],[-10,10],[-9.5,8],[-10,7.5],[-11,9],[-11,7.5],[-12,8],[-13,11],[-12.5,9],[-13,7],[-14.5,6],[-15,5],[-14,4],[-13.5,3],[-12.5,3],[-11.5,4],[-16,5],[-16,7],[-16.5,8],[-15.5,9],[-21,11.5],[-21,10],[-20,10],[-27.5,21.5],[-27,18],[-27,23],[-26,25],[-26,22],[-25,23],[-24.5,21],[-24,23],[-23,23],[-23,18],[-24,18],[-25,17],[-24,16],[-23,16],[-22.5,19],[-22,17],[-22,19],[-21,18],[-21,16],[-21,20],[-19.5,18],[-19,16],[-19,15],[-20,15],[-18.5,19],[-22.5,-2],[-21.5,-4.5],[-22,-6],[-20.5,-1],[-20,-2],[-20,-4.5],[-19.5,-1.5],[-21,-5],[-17.5,-2.5],[-17,-3],[-17,-4.5],[-17.5,-6],[-16,-1.5],[-16.5,-5],[-15.5,-6.5],[-17,-8],[-17,-9],[-17,-10],[-16,1],[-18,-13.5],[-20.5,-13],[-19,-18],[-17,-18],[-14.5,-13.5],[-12,-16],[-11.5,-16],[-11,-15],[-12,-18],[-14,-24],[-11,-23],[-3,-27],[21.8,10.5],[38.5,35.5],[-26.5,17.5],[-19,23]];
const eRed2=[[-30,29],[-28,26.5],[-27.5,27],[-25,26.5],[-24,26],[-23,24.5],[-22.5,22],[-20.5,21],[-22,21],[-23.5,20],[-24.5,19],[-25.5,18],[-22,15],[-21.5,16.5],[-20.5,17],[-20,19],[-17,21],[-17.5,22.5],[-15.5,23],[-15,19],[-14,17],[-13,19.5],[-12,14],[-11.5,12],[-10,9],[-11,11],[-12,10],[-14,8],[-14,6],[-13,5],[-12,5],[-9.5,13],[-21,-2],[-22,-3.5],[-21,-1.5],[-16.5,-2],[-16.5,-3.5],[-16.5,-7]];

const fHet=[[-4.5,-.3],[-4.4,-.1],[-4.3,.1],[-4.25,.4],[-4.15,.7],[-4.05,1],[-3.95,1.2],[-3.8,1.8],[-3.2,3],[-3.1,3.5],[-3,3.3],[-2.9,3.8],[-3.2,3.9],[-2.9,3],[-2.7,4.8],[-2.5,5.3],[-2.4,5.6],[-2.5,6.3],[-2.5,7.2],[-2.5,7],[-2.85,8],[-2.9,8.4],[-3,8.8],[-3.1,9.2],[-3.1,9.6],[-3.2,9.9],[-3,10],[-2.8,10.2],[-2.6,10.7],[-2.4,10.8],[-2.3,9.7],[-2.1,9.5],[-2,10.3],[-1.7,10.4],[-2.4,11.4],[-2.2,11.7],[-2.2,12],[-2.05,11.4],[-2,12.2],[-1.9,12],[-1.7,12.5],[-1.5,12.1],[-1.5,12.6],[-1.2,12.6],[-1.1,12.2],[-.9,12.8],[-.8,12.6],[-.6,13],[-.3,13.1],[-.5,12.8],[-.1,13.3],[.1,13],[.1,13.3],[.5,12.9],[.5,13.7],[.6,14],[.7,14.2],[.9,14.3],[1,14.1],[1.2,14.2],[1.4,14.1],[1.6,14.4],[1.8,14.4],[2.3,14.4],[2,14.4],[2.1,13.9],[2.8,14.3],[3,14.3],[3.2,14.1],[3.4,13.9],[3.6,13.8],[3.9,13.7],[4.2,13.4],[4.6,13.3],[5,13],[5.1,12.9],[5.3,12.5],[5.6,12.4],[6.5,12],[6.8,11.6],[7,11.4],[7.2,11.4],[7.5,11],[7.7,11],[8.3,10.5],[9,9.4],[9.3,9.3],[9.4,9.8],[11.1,4.9],[3,13.9],[-1,13]];
const fHet2=[[-3.2,3.3],[-3,3.6],[-2.95,3.05],[-2.8,4.7],[-2.6,4.9],[-2.55,5.6],[-2.35,5.9],[-2.4,6.2],[-2.3,5.5],[-2.7,7.3],[-3.05,9],[-3.2,9.3],[-3,9.5],[-2.95,9.8],[-2.9,9.1],[-3,8.3],[-2.85,8.6],[-2.75,7.9],[-2.1,11.9],[-1.8,11.8],[-1.7,12.1],[-1.4,12.4],[-1.1,12.5],[-1,12.7],[-.7,12.9],[-.4,13],[.2,13.2],[.4,13.4],[.7,13.8],[1.1,13.9],[1.4,14.3],[.8,14],[2.9,14.1],[2.7,14],[-4.2,.5],[-4.1,.9],[-3.1,3.8]];
const fGreen=[[-4.4,-.1],[-4.4,.2],[-3.95,1.4],[-3.3,2.6],[-3.2,2.65],[-3.1,4.1],[-3.1,3.6],[-2.9,4.2],[-2.7,3.8],[-2.65,4.2],[-2.8,3.4],[-2.9,6],[-2.9,5.8],[-2.8,5.5],[-2.9,6.8],[-2.6,6.2],[-2.5,5.7],[-2.4,5.5],[-2.8,7.2],[-2.7,7.6],[-2.6,8.2],[-2.55,8.6],[-2.5,9],[-2.4,9.3],[-2.45,9.7],[-2.7,10.4],[-2.3,10.5],[-2,10.8],[-1.9,10.6],[-1.6,10.7],[-1.4,10.5],[-1.2,10.6],[-1,10.6],[-.8,10.5],[-.7,10.7],[-.6,10.8],[-2.1,9.4],[-.4,13],[.3,12.9],[.7,13.3],[.9,13.1],[1.1,13],[1.1,13.5],[1.3,13.7],[1.4,14],[1.5,12.8],[1.6,12.6],[1.7,12.7],[1.8,12.7],[1.4,13.3],[2.3,13.9],[2.5,13.8],[2.9,13.8],[3.1,13.8],[3.6,13.8],[3.7,13],[3.8,13],[3.9,13.4],[4.4,13.3],[5,13.1],[5.2,12.6],[5.7,12],[5.9,12.1],[6.8,12.2],[6.9,11.9],[6.7,11.8],[7.1,11.7],[7.3,11.5],[7.6,11.2],[7.8,10.9],[8,10.7],[8.3,10.4],[8.7,9.9],[8.6,9.7],[8.95,9.3],[9.3,9.2],[9.5,9.9],[9.7,9.8],[9.9,9.5],[10,9],[10.3,9.2],[10.6,8.2],[10.6,7.7],[10.7,7.3],[10.6,7],[10.7,6.7],[10.9,6.3],[10.8,5.5],[11,5.1],[10.7,5],[9.7,6],[9.7,5.5],[9.9,5.3],[9.4,4.5],[9.4,4.6],[9.6,4.7],[9.7,3.8],[10.3,4.3],[10.3,3.6],[10.3,3.1],[10.35,2.6],[9.6,3],[9.8,3],[10.7,1.2],[10.5,.8],[10.2,1.2],[11.6,3.2],[11.6,2.8],[11.7,2.3],[11.9,2.1],[12.4,2.5],[12.6,2.3],[12.5,.3],[12.7,.2],[13,.3],[14,-1.8],[14.1,-2.2],[14.1,-2],[14,-3],[9.3,2.7],[2,13.9]];
const fGreen2=[[-3,4.2],[-3.2,3.5],[-2.85,3.9],[-2.8,6.3],[-2.75,5.8],[-2.4,5.2],[-2.55,7.9],[-2.5,8.4],[-2.4,8.9],[-2.2,9.2],[-2.9,10.3],[-2.5,10.6],[-2.2,10.7],[-1.8,10.9],[.9,13.5],[1.3,13.1],[1.6,13.5],[1.2,14],[4.7,13.2],[6.8,11.95],[7.4,11.4],[8.5,10.1],[9.6,9.9],[10.2,9.1],[10.7,7.9],[10.5,6.8]];
const fRed=[[-4.55,-.4],[-4.6,-.4],[-2.9,6.9],[6,12.2],[8.4,10.3],[8.9,8.9],[9,8.6],[9,8.4],[9.9,9.1],[10.3,8.9],[10.35,9],[9.9,8.3],[10,8.2],[10.2,8.1],[10.7,7.7],[10.1,6.6],[9.9,6.1],[10,6.2],[10.1,6.2],[10.2,5.9],[9.9,5.6],[10,5.3],[10.5,5.2],[10.7,5.6],[10.8,6.4],[10.9,6.1],[11,5.8],[11,5.4],[11.05,5.7],[10.6,5.4],[10.5,4.8],[10.5,4.5],[10.4,4.3],[9.5,3.9],[9.5,4.4],[9.8,3.8],[10,3.7],[10.2,3.8],[10.3,3],[9.2,2.9],[9.3,2.9],[9.5,3],[9.6,2.85],[9.7,3.1],[9.9,3.1],[10.2,2.9],[9.3,2.1],[9.35,1.9],[9.4,1.7],[9.45,1.5],[9.6,1.5],[9.7,1.3],[9.9,1.2],[10.1,1.2],[10.3,1],[10.5,1.1],[10.6,.7],[10.5,.4],[10.8,.4],[10.9,.3],[11.1,.3],[11.3,.2],[11.5,.2],[11.7,.2],[11.1,1.9],[11.3,1.8],[11.6,1.7],[11.9,1.7],[12.1,1.7],[12.3,1.6],[12.4,1.2],[12.5,1],[12.7,1.7],[12.8,1.4],[12.9,1],[13,1.1],[12.9,1.3],[12.8,.7],[12.9,.4],[13,.2],[13.2,.4],[12.2,.8],[12.5,.7],[12.35,.4],[11.3,3.1],[11.7,2.9],[12,.7],[13.6,-.3],[13.7,-.4],[13.8,-.7],[13.8,-1],[14,-1.2],[14,-1.4],[14,-1.6],[14.1,-1.9],[14,-2.7],[14.05,-2.9],[13.9,-3.2],[14,-3.3]];
const fRed2=[[10.8,.7],[10.4,.6],[11,.6],[10.7,.9],[11.2,.4],[11.4,.35],[12.6,1.4],[12.7,1.1],[13.05,.8],[12.65,.4],[9.45,1.9],[9.55,1.7],[10.15,6],[10,5.8],[10.8,5.3],[10.75,5.9],[9.8,3.9],[9.6,3.5],[13.9,-.9],[13.65,-.55],[14.05,-1.1]];

const panels=[
 {key:"A",title:"PCA",data:[aHet.concat(aHet2),aGreen.concat(aGreen2),aRed.concat(aRed2)],x:[71,450],y:[365.7,83],xd:[-.788,.498],yd:[-.28,.368],xt:[-.6,-.4,-.2,0,.2,.4],yt:[-.2,-.1,0,.1,.2,.3],f:d3.format(".1f"),lg:[182.3,77.3],ltx:16,lty:67,tc:262,ty:67,xc:260,xy:399.5,yc:[21,225]},
 {key:"B",title:"t-SNE",data:[bHet.concat(bHet2),bGreen.concat(bGreen2),bRed],x:[524.3,904],y:[365.3,83],xd:[-17.16,12.5],yd:[-16.5,29.9],xt:[-15,-10,-5,0,5,10],yt:[-10,0,10,20],f:d3.format("d"),lg:[636,77.3],ltx:475,lty:67,tc:720.7,ty:67,xc:714,xy:400,yc:[479,224]},
 {key:"C",title:"UMAP",data:[cHet.concat(cHet2),cGreen.concat(cGreen2),cRed.concat(cRed2)],x:[973.3,1358.7],y:[366,78.7],xd:[8.8,19.56],yd:[2.49,10.37],xt:[10,12,14,16,18],yt:[3,4,5,6,7,8,9,10],f:d3.format("d"),lg:[1193,85],ltx:928,lty:67,tc:1166,ty:67,xc:1165.7,xy:400,yc:[937.7,222.7]},
 {key:"D",title:"PCA",data:[dHet.concat(dHet2),dGreen.concat(dGreen2),dRed.concat(dRed2)],x:[65,444.3],y:[777.7,495.3],xd:[-18.68,22.34],yd:[-4.48,6.44],xt:[-15,-10,-5,0,5,10,15,20],yt:[-4,-2,0,2,4,6],f:d3.format("d"),lg:[176.3,489.3],ltx:16,lty:479,tc:262,ty:479,xc:254,xy:812.5,yc:[27.7,636.7]},
 {key:"E",title:"t-SNE",data:[eHet.concat(eHet2),eGreen.concat(eGreen2),eRed.concat(eRed2)],x:[524,903.3],y:[777.7,495],xd:[-41.96,43.6],yd:[-37.2,62.6],xt:[-40,-30,-20,-10,0,10,20,30,40],yt:[-20,0,20,40,60],f:d3.format("d"),lg:[635.3,489.3],ltx:475,lty:478,tc:715,ty:478,xc:713,xy:812.5,yc:[478,637.7]},
 {key:"F",title:"UMAP",data:[fHet.concat(fHet2),fGreen.concat(fGreen2),fRed.concat(fRed2)],x:[969.3,1355],y:[777,489.7],xd:[-5.53,15.07],yd:[-4.15,15.34],xt:[-5,-2.5,0,2.5,5,7.5,10,12.5,15],yt:[-2.5,0,2.5,5,7.5,10,12.5,15],f:d3.format(".1f"),lg:[1082.3,709],ltx:928,lty:478,tc:1160.7,ty:478,xc:1161.7,xy:812.5,yc:[918.7,634]}
];
const headers=[["Unsupervised clustering (female mice, basal)",710,34],["Supervised clustering (female mice, basal)",714,446]];

const svg=d3.select("#c");
const root=svg.append("g").attr("filter","url(#soft)");
root.append("rect").attr("width",1370).attr("height",816).attr("fill","#fff");
const minus=s=>s.replace("-","\u2212");
headers.forEach(h=>root.append("text").attr("class","head").attr("x",h[1]).attr("y",h[2]).attr("text-anchor","middle").attr("font-size",26.7).text(h[0]));

panels.forEach((p,pi)=>{
  const g=root.append("g");
  const x=d3.scaleLinear().domain(p.xd).range(p.x), y=d3.scaleLinear().domain(p.yd).range(p.y);
  const cid="clip"+pi;
  g.append("clipPath").attr("id",cid).append("rect").attr("x",p.x[0]).attr("y",p.y[1]).attr("width",p.x[1]-p.x[0]).attr("height",p.y[0]-p.y[1]);
  const marks=g.append("g").attr("clip-path",`url(#${cid})`);
  p.data.forEach((arr,si)=>{
    marks.append("g").selectAll("circle").data(arr).join("circle")
      .attr("cx",d=>x(d[0])).attr("cy",d=>y(d[1])).attr("r",3.3)
      .attr("fill",seriesFill[si]).attr("fill-opacity",.7)
      .attr("stroke","#000").attr("stroke-opacity",.8).attr("stroke-width",.9);
  });
  const grid=g.append("g");
  p.xt.forEach(t=>grid.append("line").attr("x1",x(t)).attr("x2",x(t)).attr("y1",p.y[1]).attr("y2",p.y[0]));
  p.yt.forEach(t=>grid.append("line").attr("y1",y(t)).attr("y2",y(t)).attr("x1",p.x[0]).attr("x2",p.x[1]));
  grid.selectAll("line").attr("stroke","#b8b8b8").attr("stroke-width",1);
  const xa=g.append("g").attr("transform",`translate(0,${p.y[0]})`).call(d3.axisBottom(x).tickValues(p.xt).tickSize(3.5).tickPadding(4.5).tickFormat(d=>minus(p.f(d))));
  const ya=g.append("g").attr("transform",`translate(${p.x[0]},0)`).call(d3.axisLeft(y).tickValues(p.yt).tickSize(3.5).tickPadding(4.5).tickFormat(d=>minus(p.f(d))));
  [xa,ya].forEach(a=>{a.select(".domain").remove();a.selectAll("text").attr("font-size",12.6).attr("font-family","DejaVu Sans").attr("fill","#262626");a.selectAll("line").attr("stroke","#333").attr("stroke-width",.8);});
  g.append("rect").attr("x",p.x[0]).attr("y",p.y[1]).attr("width",p.x[1]-p.x[0]).attr("height",p.y[0]-p.y[1]).attr("fill","none").attr("stroke","#444").attr("stroke-width",1);
  g.append("text").attr("x",p.xc).attr("y",p.xy).attr("text-anchor","middle").attr("font-size",12.6).text("Feature 1");
  g.append("text").attr("transform",`translate(${p.yc[0]+4},${p.yc[1]}) rotate(-90)`).attr("text-anchor","middle").attr("font-size",12.6).text("Feature 2");
  g.append("text").attr("class","head").attr("x",p.tc).attr("y",p.ty).attr("text-anchor","middle").attr("font-size",21.4).text(p.title);
  g.append("text").attr("class","head").attr("x",p.ltx).attr("y",p.lty).attr("font-size",20).attr("font-weight","bold").text(p.key);
  const lg=g.append("g").attr("transform",`translate(${p.lg[0]},${p.lg[1]})`);
  lg.append("rect").attr("width",pi===2||pi===5?159.3:156.7).attr("height",61).attr("rx",2).attr("fill","#fff").attr("fill-opacity",.8).attr("stroke","#d0d0d0").attr("stroke-width",.8);
  seriesNames.forEach((n,i)=>{
    const ry=11.4+i*19;
    lg.append("circle").attr("cx",17.7).attr("cy",ry).attr("r",3.2).attr("fill",seriesFill[i]).attr("fill-opacity",.7).attr("stroke","#000").attr("stroke-opacity",.8).attr("stroke-width",.9);
    lg.append("text").attr("x",41).attr("y",ry+4.4).attr("font-size",12.6).text(n);
  });
});
</script></body></html>
